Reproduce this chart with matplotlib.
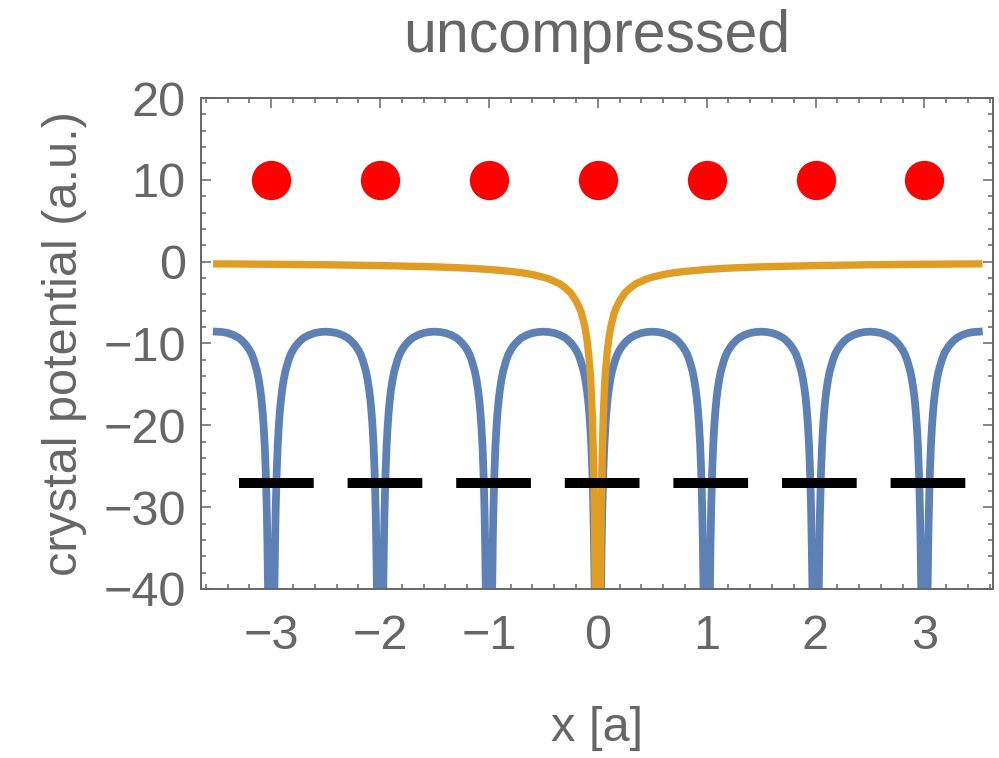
import numpy as np
import matplotlib.pyplot as plt

plt.rcParams['font.family'] = ['Liberation Sans', 'DejaVu Sans']

# lattice sites (units of a) and the level the atoms are drawn at
sites = [-3, -2, -1, 0, 1, 2, 3]
atom_level = 10

# crystal potential over half a cell: distance from site -> value
cell_d = [0.028, 0.03, 0.035, 0.04, 0.045, 0.05, 0.06, 0.07, 0.08, 0.09, 0.10,
          0.115, 0.13, 0.16, 0.18, 0.20, 0.225, 0.25, 0.275, 0.30, 0.35,
          0.40, 0.45, 0.50]
cell_v = [-41.0, -39.4, -34.5, -30.9, -28.1, -25.8, -22.4, -20.0, -18.2, -16.8, -15.7,
          -14.4, -13.4, -12.0, -11.3, -10.8, -10.3, -9.9, -9.57, -9.3, -8.95,
          -8.72, -8.6, -8.56]

# single atom potential, distance from 0 -> value
atom_d = [0.022, 0.025, 0.03, 0.04, 0.05, 0.06, 0.07, 0.085, 0.10, 0.12, 0.15,
          0.17, 0.20, 0.25, 0.30, 0.35, 0.40, 0.45, 0.50, 0.60, 0.70, 0.80,
          1.0, 1.2, 1.5, 2.0, 2.5, 3.0, 3.5]
atom_v = [-43.0, -38.0, -31.0, -24.0, -19.0, -15.8, -13.5, -11.2, -9.5, -7.9, -6.3,
          -5.6, -4.8, -3.8, -3.2, -2.7, -2.4, -2.1, -1.9, -1.58, -1.35, -1.19,
          -0.95, -0.79, -0.63, -0.48, -0.38, -0.32, -0.27]

# dashed energy level
level_x = [-3.3, 3.38]
level_y = -27

gray = '#666666'
blue = '#5E81B5'
orange = '#E19C24'

# tile the measured cell profile over all sites
d = np.array(cell_d)
v = np.array(cell_v)
bx, by = [], []
for n in sites:
    bx += list(n - d[::-1]) + list(n + d)
    by += list(v[::-1]) + list(v)

ad = np.array(atom_d)
av = np.array(atom_v)
ox = np.concatenate([-ad[::-1], ad])
oy = np.concatenate([av[::-1], av])

fig = plt.figure(figsize=(9.99, 7.58), dpi=100)
ax = fig.add_axes([0.2012, 0.2230, 0.7928, 0.6477])

ax.plot(bx, by, color=blue, lw=5.6, solid_joinstyle='round')
ax.plot(ox, oy, color=orange, lw=5.3, solid_joinstyle='round')
ax.plot(level_x, [level_y, level_y], color='black', lw=7.2,
        linestyle=(0, (7.47, 3.39)), dash_capstyle='butt')
ax.plot(sites, [atom_level] * len(sites), 'o', color='#FF0000',
        markersize=28.3, markeredgewidth=0)

ax.set_xlim(-3.645, 3.63)
ax.set_ylim(-40, 20)
ax.set_xticks(sites)
ax.set_xticklabels(['\u22123', '\u22122', '\u22121', '0', '1', '2', '3'])
ax.set_xticks(np.arange(-3.6, 3.61, 0.2), minor=True)
ax.set_yticks([20, 10, 0, -10, -20, -30, -40])
ax.set_yticklabels(['20', '10', '0', '\u221210', '\u221220', '\u221230', '\u221240'])
ax.set_yticks(np.arange(-40, 21, 2), minor=True)

for s in ax.spines.values():
    s.set_color(gray)
    s.set_linewidth(1.4)
ax.tick_params(which='both', direction='in', top=True, right=True,
               color=gray, width=1.1, labelcolor=gray, labelsize=35)
ax.tick_params(which='major', length=7.2)
ax.tick_params(which='minor', length=3.6)
ax.tick_params(axis='x', pad=18)
ax.tick_params(axis='y', pad=11)

ax.set_xlabel('x [a]', fontsize=35, color=gray, labelpad=34)
ax.set_ylabel('crystal potential (a.u.)', fontsize=35, color=gray, labelpad=12)
ax.set_title('uncompressed', fontsize=42.5, color=gray, pad=33)

fig.savefig('out.png', dpi=100)
